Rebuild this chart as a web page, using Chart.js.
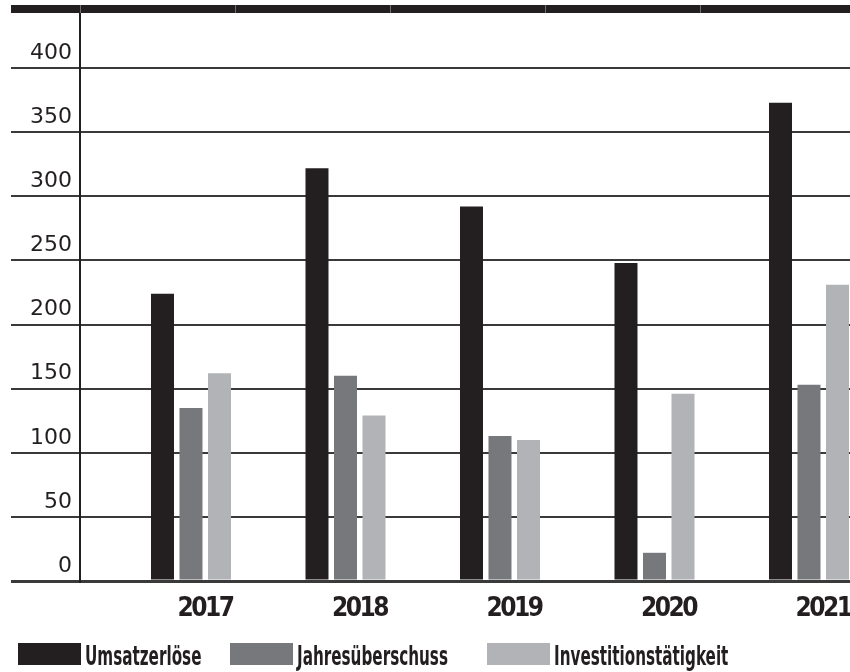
<!DOCTYPE html>
<html>
<head>
<meta charset="utf-8">
<script src="https://cdn.jsdelivr.net/npm/chart.js@4/dist/chart.umd.min.js"></script>
<style>
html, body { margin: 0; padding: 0; background: #ffffff; }
#wrap { width: 850px; height: 672px; position: relative; overflow: hidden; }
#c { position: absolute; left: 0; top: 0; }
#legend { position: absolute; left: 0; top: 643px; width: 850px; height: 22px; }
#legend .item { position: absolute; top: 0; height: 22px; display: flex; align-items: flex-start; }
#legend .box { width: 63px; height: 22px; flex: none; }
#legend .txt {
  margin-left: 4px; white-space: nowrap; color: #231f20;
  font: bold 26px 'DejaVu Sans Condensed', 'DejaVu Sans', sans-serif;
  line-height: 22px; position: relative; top: 2px;
  transform: scaleX(0.65); transform-origin: 0 50%;
}
</style>
</head>
<body>
<div id="wrap">
  <canvas id="c" width="850" height="672"></canvas>
  <div id="legend"></div>
</div>
<script>
// ---- data ----
const years = [2017, 2018, 2019, 2020, 2021];
const seriesNames = ['Umsatzerlöse', 'Jahresüberschuss', 'Investitionstätigkeit'];
const umsatzerloese = [224, 322, 292, 248, 373];
const jahresueberschuss = [135, 160, 113, 22, 153];
const investitionstaetigkeit = [162, 129, 110, 146, 231];
const yTicks = [0, 50, 100, 150, 200, 250, 300, 350, 400];

// ---- styles ----
const seriesColors = ['#231f20', '#77787b', '#b1b3b6'];
const INK = '#231f20';
const CONDENSED = "'DejaVu Sans Condensed', 'DejaVu Sans', sans-serif";
const legendLefts = [18, 230, 487];

const seriesValues = [umsatzerloese, jahresueberschuss, investitionstaetigkeit];
const datasets = seriesNames.map((name, i) => ({
  label: name,
  data: years.map((yr, j) => ({ x: yr, y: seriesValues[i][j] })),
  backgroundColor: seriesColors[i],
  borderWidth: 0,
  barPercentage: 0.807,
  categoryPercentage: 0.5534
}));

// tighter letter spacing for the heavy year labels (x tick labels are drawn after datasets)
const tightYears = {
  id: 'tightYears',
  afterDatasetsDraw(chart) { chart.ctx.letterSpacing = '-2.5px'; },
  afterDraw(chart) { chart.ctx.letterSpacing = '0px'; }
};

const topBand = {
  id: 'topBand',
  afterDraw(chart) {
    const { ctx, chartArea } = chart;
    ctx.save();
    ctx.fillStyle = INK;
    ctx.fillRect(11, chartArea.top - 8, chart.width - 11, 8);
    ctx.strokeStyle = '#6d6e71';
    ctx.lineWidth = 1;
    [80.5, 235.5, 390.5, 545.5, 700.5].forEach(x => {
      ctx.beginPath();
      ctx.moveTo(x, chartArea.top - 8);
      ctx.lineTo(x, chartArea.top);
      ctx.stroke();
    });
    ctx.restore();
  }
};

const chart = new Chart(document.getElementById('c'), {
  type: 'bar',
  data: { datasets },
  plugins: [tightYears, topBand],
  options: {
    responsive: false,
    animation: false,
    devicePixelRatio: 1,
    layout: { padding: { top: 13, left: 0, right: 0, bottom: 0 } },
    plugins: {
      tooltip: { enabled: false },
      legend: { display: false }
    },
    scales: {
      x: {
        type: 'linear',
        min: 2016.2816,
        max: 2021.2654,
        offset: false,
        afterBuildTicks: s => { s.ticks = years.map(v => ({ value: v })); },
        afterFit: s => {
          s.height = s.chart.height - 581;
          s.paddingLeft = 0; s.paddingRight = 0;
        },
        grid: { display: false, drawTicks: false, offset: false },
        border: { display: false },
        ticks: {
          z: 1,
          padding: 13,
          labelOffset: 14,
          autoSkip: false,
          maxRotation: 0,
          color: INK,
          font: { family: CONDENSED, weight: 'bold', size: 26 },
          callback: v => String(v)
        }
      },
      y: {
        min: 0,
        max: 443,
        afterBuildTicks: s => { s.ticks = yTicks.map(v => ({ value: v })); },
        afterFit: s => { s.width = 80; s.paddingTop = 0; s.paddingBottom = 0; },
        grid: {
          color: '#3a3a3a',
          lineWidth: c => (c.tick && c.tick.value === 0) ? 3 : 2,
          drawTicks: true,
          tickLength: 69
        },
        border: { display: true, color: INK, width: 2 },
        ticks: {
          padding: -61,
          labelOffset: -15,
          color: INK,
          font: { family: "'DejaVu Sans', sans-serif", size: 22 }
        }
      }
    }
  }
});

// HTML legend built from the chart's datasets
const legendEl = document.getElementById('legend');
chart.data.datasets.forEach((ds, i) => {
  const item = document.createElement('div');
  item.className = 'item';
  item.style.left = legendLefts[i] + 'px';
  const box = document.createElement('div');
  box.className = 'box';
  box.style.background = ds.backgroundColor;
  const txt = document.createElement('span');
  txt.className = 'txt';
  txt.textContent = ds.label;
  item.appendChild(box);
  item.appendChild(txt);
  legendEl.appendChild(item);
});
</script>
</body>
</html>
